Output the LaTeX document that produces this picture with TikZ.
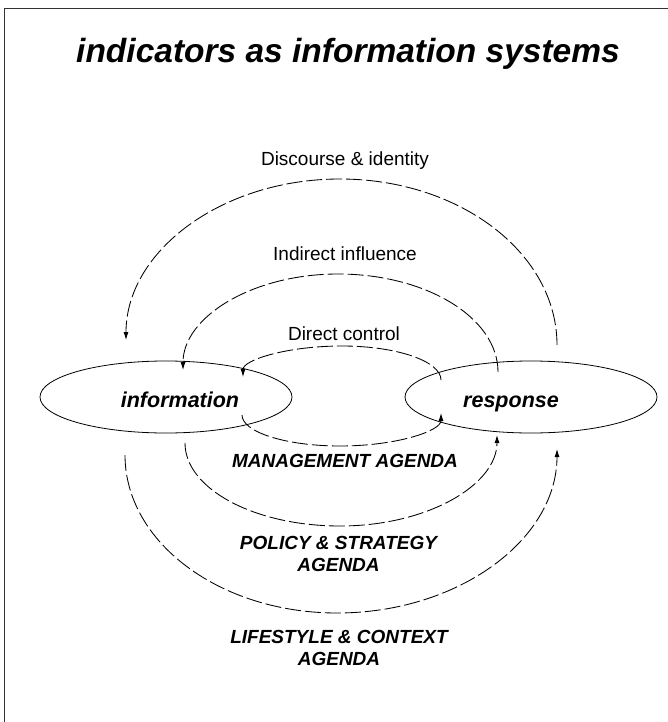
\documentclass[tikz,border=0pt]{standalone}
\usepackage{fontspec}
\setmainfont{Liberation Sans}
\usetikzlibrary{arrows.meta,shapes.geometric,calc}
\begin{document}
\begin{tikzpicture}[x=1pt,y=1pt,
  blob/.style={ellipse,draw,line width=0.8pt,minimum width=252pt,minimum height=72pt,inner sep=0pt},
  flow/.style={line width=0.85pt,dash pattern=on 16pt off 4pt,-{Latex[length=8pt,width=5pt]}},
  lbl/.style={font=\fontsize{19}{21.5}\selectfont,anchor=base,inner sep=0pt},
  agenda/.style={font=\fontsize{19}{21.5}\selectfont\bfseries\itshape,anchor=base,inner sep=0pt,align=center},
  word/.style={font=\fontsize{21.5}{24}\selectfont\bfseries\itshape,anchor=base,inner sep=0pt},
  frameline/.style={line width=1pt,draw=black!80}]
\useasboundingbox (0,0) rectangle (668,-722);
\draw[frameline] (4,-722) -- (4,-8.5) -- (668,-8.5);

\node[font=\fontsize{33.5}{40}\selectfont\bfseries\itshape,anchor=base,inner sep=0pt] (title) at (348,-63) {indicators as information systems};

% ellipses
\node[blob] (info) at (166,-397) {};
\node[blob] (resp) at (531,-397) {};
\node[word] (infotxt) at (180,-407) {information};
\node[word] (resptxt) at (511,-407) {response};

% end points
\coordinate (dis-s) at (557,-345);
\coordinate (dis-t) at (340,-179);
\coordinate (dis-e) at (126,-340);
\coordinate (ii-s) at ($(resp.center)+(-33,25)$);
\coordinate (ii-t) at (338,-274);
\coordinate (ii-e) at ($(info.center)+(17,27)$);
\coordinate (dc-s) at ($(resp.center)+(-90,17)$);
\coordinate (dc-t) at (342,-346);
\coordinate (dc-e) at ($(info.center)+(77,20)$);
\coordinate (ma-s) at ($(info.center)+(76,-18)$);
\coordinate (ma-b) at (340,-446);
\coordinate (ma-e) at ($(resp.center)+(-90,-16)$);
\coordinate (ps-s) at ($(info.center)+(19,-46)$);
\coordinate (ps-b) at (340,-526);
\coordinate (ps-e) at ($(resp.center)+(-34,-38)$);
\coordinate (ls-s) at (125,-455);
\coordinate (ls-b) at (337,-613);
\coordinate (ls-e) at (557,-449);

% upper loops (response -> information)
\draw[flow] (dis-s) .. controls +(0,91.7) and +(119.9,0) .. (dis-t)
                    .. controls +(-118.2,0) and +(0,88.9) .. (dis-e);
\draw[flow] (ii-s) .. controls +(0,54.1) and +(88.4,0) .. (ii-t)
                   .. controls +(-85.6,0) and +(0,53) .. (ii-e);
\draw[flow] (dc-s) .. controls +(0,18.8) and +(54.7,0) .. (dc-t)
                   .. controls +(-54.7,0) and +(0,17.1) .. (dc-e);

% lower loops (information -> response)
\draw[flow] (ma-s) .. controls +(0,-17.1) and +(-54.1,0) .. (ma-b)
                   .. controls +(55.8,0) and +(0,-18.2) .. (ma-e);
\draw[flow] (ps-s) .. controls +(0,-45.8) and +(-85.6,0) .. (ps-b)
                   .. controls +(86.7,0) and +(0,-50.3) .. (ps-e);
\draw[flow] (ls-s) .. controls +(0,-87.3) and +(-117.1,0) .. (ls-b)
                   .. controls +(121.5,0) and +(0,-90.6) .. (ls-e);

% labels
\node[lbl] (disc) at (345,-166) {Discourse \& identity};
\node[lbl] (indir) at (345,-260) {Indirect influence};
\node[lbl] (direct) at (344,-340) {Direct control};
\node[agenda] (mgmt) at (345,-467) {MANAGEMENT AGENDA};
\node[agenda] (policy) at (338.5,-571) {POLICY \& STRATEGY\\AGENDA};
\node[agenda] (life) at (339,-665) {LIFESTYLE \& CONTEXT\\AGENDA};
\end{tikzpicture}
\end{document}
